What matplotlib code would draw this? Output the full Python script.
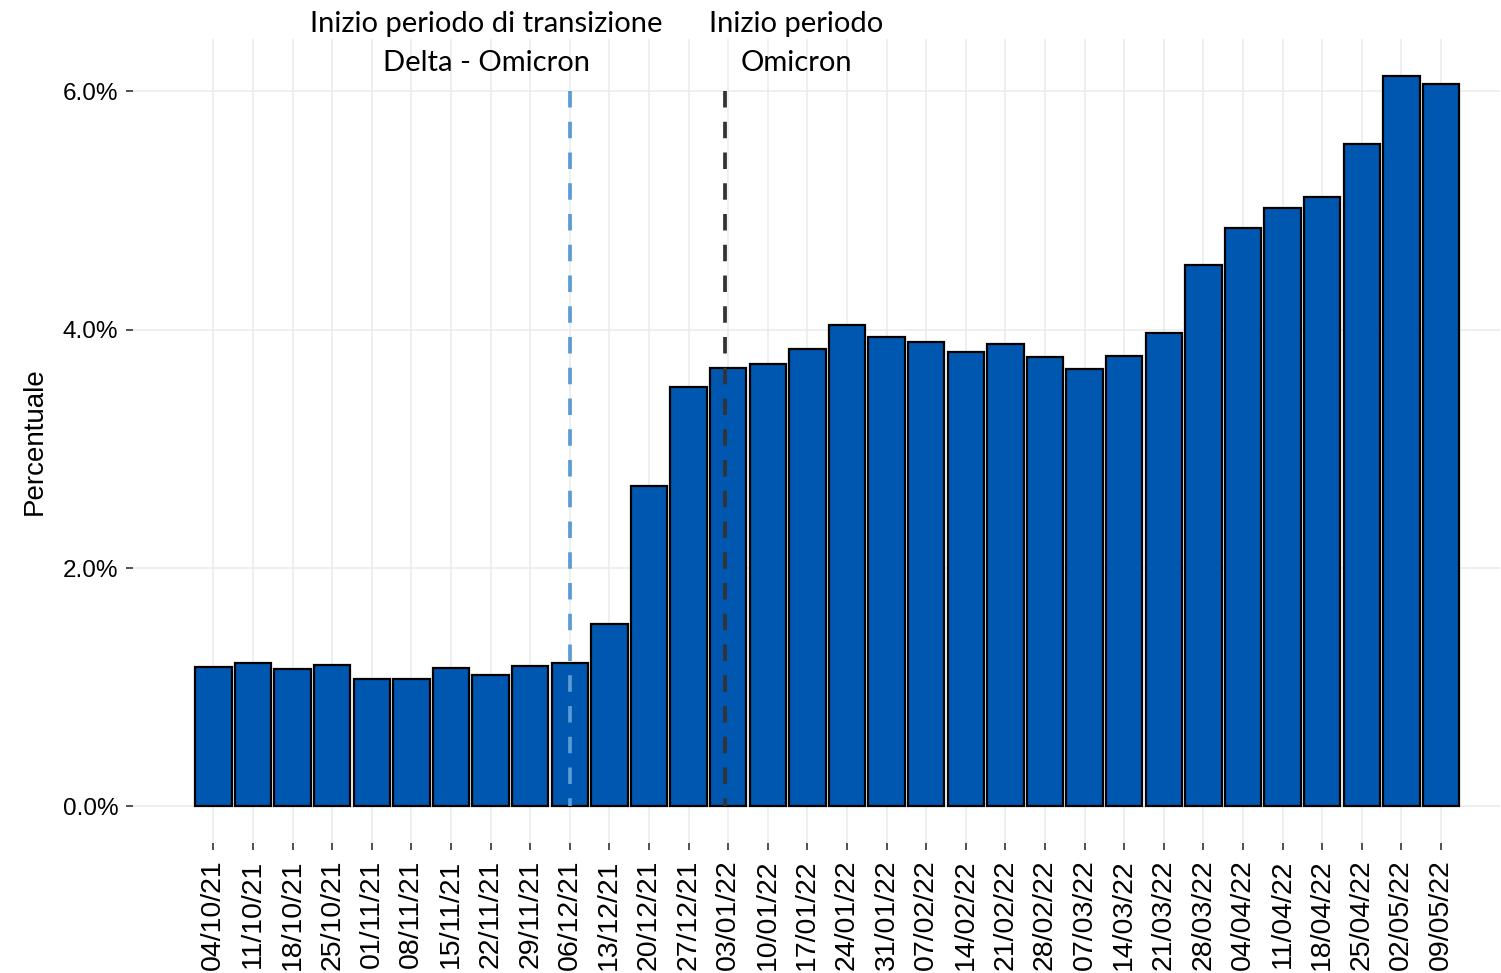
import numpy as np
import matplotlib
matplotlib.use("Agg")
import matplotlib.pyplot as plt

settimane = ["04/10/21", "11/10/21", "18/10/21", "25/10/21", "01/11/21", "08/11/21",
             "15/11/21", "22/11/21", "29/11/21", "06/12/21", "13/12/21", "20/12/21",
             "27/12/21", "03/01/22", "10/01/22", "17/01/22", "24/01/22", "31/01/22",
             "07/02/22", "14/02/22", "21/02/22", "28/02/22", "07/03/22", "14/03/22",
             "21/03/22", "28/03/22", "04/04/22", "11/04/22", "18/04/22", "25/04/22",
             "02/05/22", "09/05/22"]
percentuale = [1.17, 1.20, 1.15, 1.19, 1.07, 1.07, 1.16, 1.10, 1.18, 1.20,
               1.53, 2.69, 3.52, 3.68, 3.71, 3.84, 4.04, 3.94, 3.90, 3.81,
               3.88, 3.77, 3.67, 3.78, 3.97, 4.54, 4.85, 5.02, 5.11, 5.56,
               6.13, 6.06]
yticks = [0, 2, 4, 6]

inizio_transizione = "06/12/21"
inizio_omicron = "03/01/22"

plt.rcParams['font.family'] = ['Liberation Sans', 'DejaVu Sans']

fig = plt.figure(figsize=(15.01, 9.73), dpi=100)
ax = fig.add_axes([0.0886, 0.1336, 0.9107, 0.8264])

x = np.arange(len(settimane))
ax.bar(x, percentuale, width=0.92, color="#0057B0", edgecolor="black",
       linewidth=1.6, zorder=3)

# linee tratteggiate dall'alto verso il basso
ix_t = settimane.index(inizio_transizione)
ix_o = settimane.index(inizio_omicron)
ax.plot([ix_t, ix_t], [6.0, 0], color="#5B9BD5", linestyle=(0, (4.4, 3.8)),
        linewidth=2.7, zorder=4)
ax.plot([ix_o - 0.07, ix_o - 0.07], [6.0, 0], color="#333333",
        linestyle=(0, (4.4, 3.8)), linewidth=2.7, zorder=4)

ax.set_xlim(-2.03, 32.49)
ax.set_ylim(-0.307, 6.44)
ax.set_xticks(x)
ax.set_xticklabels(settimane, rotation=90, fontsize=20.5, va="top")
ax.set_yticks(yticks)
ax.set_yticklabels([f"{v:.1f}%" for v in yticks], fontsize=17.5)
ax.tick_params(axis="both", length=5, width=1.2, color="#333333")
ax.tick_params(axis="x", pad=7)
ax.tick_params(axis="y", pad=5.5)

ax.grid(True, color="#EBEBEB", linewidth=1.1, zorder=0)
ax.set_axisbelow(True)
for s in ax.spines.values():
    s.set_visible(False)

ax.set_ylabel("Percentuale", fontsize=20)
ax.yaxis.set_label_coords(-0.062, 0.5)

tf = dict(family=["Lato", "DejaVu Sans"], fontsize=21, ha="center", va="center",
          transform=ax.get_xaxis_transform())
ax.text(6.9, 1.018, "Inizio periodo di transizione", **tf)
ax.text(6.9, 0.970, "Delta - Omicron", **tf)
ax.text(14.72, 1.018, "Inizio periodo", **tf)
ax.text(14.72, 0.970, "Omicron", **tf)

fig.savefig("out.png", dpi=100)
